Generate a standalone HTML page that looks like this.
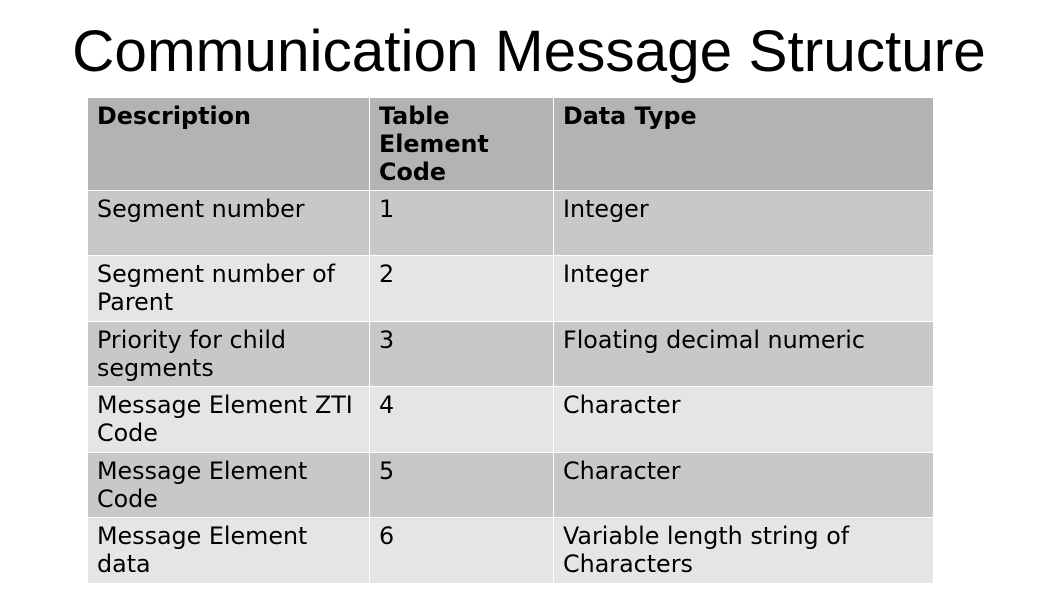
<!DOCTYPE html>
<html><head><meta charset="utf-8"><style>
body{margin:0;width:1058px;height:595px;background:#fff;overflow:hidden;position:relative;font-family:"DejaVu Sans","Liberation Sans",sans-serif;}
h1{position:absolute;top:17px;left:0;width:1058px;text-align:center;margin:0;font-family:"Liberation Sans",sans-serif;font-weight:normal;font-size:58.5px;line-height:70px;color:#000;}
table{position:absolute;left:87px;top:97px;border-collapse:collapse;}
td{border:1px solid #fff;vertical-align:top;padding:4px 9px 0 9px;font-size:23.8px;line-height:28px;color:#000;box-sizing:border-box;white-space:nowrap;}
tr.h td{background:#b3b3b3;font-weight:bold;height:93px;}
tr.a td{background:#c8c8c8;height:65px;}
tr.b td{background:#e5e5e5;height:66px;}
</style></head><body>
<h1>Communication Message Structure</h1>
<table>
<colgroup><col style="width:282px"><col style="width:184px"><col style="width:380px"></colgroup>
<tr class="h"><td>Description</td><td>Table<br>Element<br>Code</td><td>Data Type</td></tr>
<tr class="a"><td>Segment number</td><td>1</td><td>Integer</td></tr>
<tr class="b"><td>Segment number of<br>Parent</td><td>2</td><td>Integer</td></tr>
<tr class="a"><td>Priority for child<br>segments</td><td>3</td><td>Floating decimal numeric</td></tr>
<tr class="b"><td>Message Element ZTI<br>Code</td><td>4</td><td>Character</td></tr>
<tr class="a"><td>Message Element<br>Code</td><td>5</td><td>Character</td></tr>
<tr class="b"><td>Message Element<br>data</td><td>6</td><td>Variable length string of<br>Characters</td></tr>
</table>
</body></html>
